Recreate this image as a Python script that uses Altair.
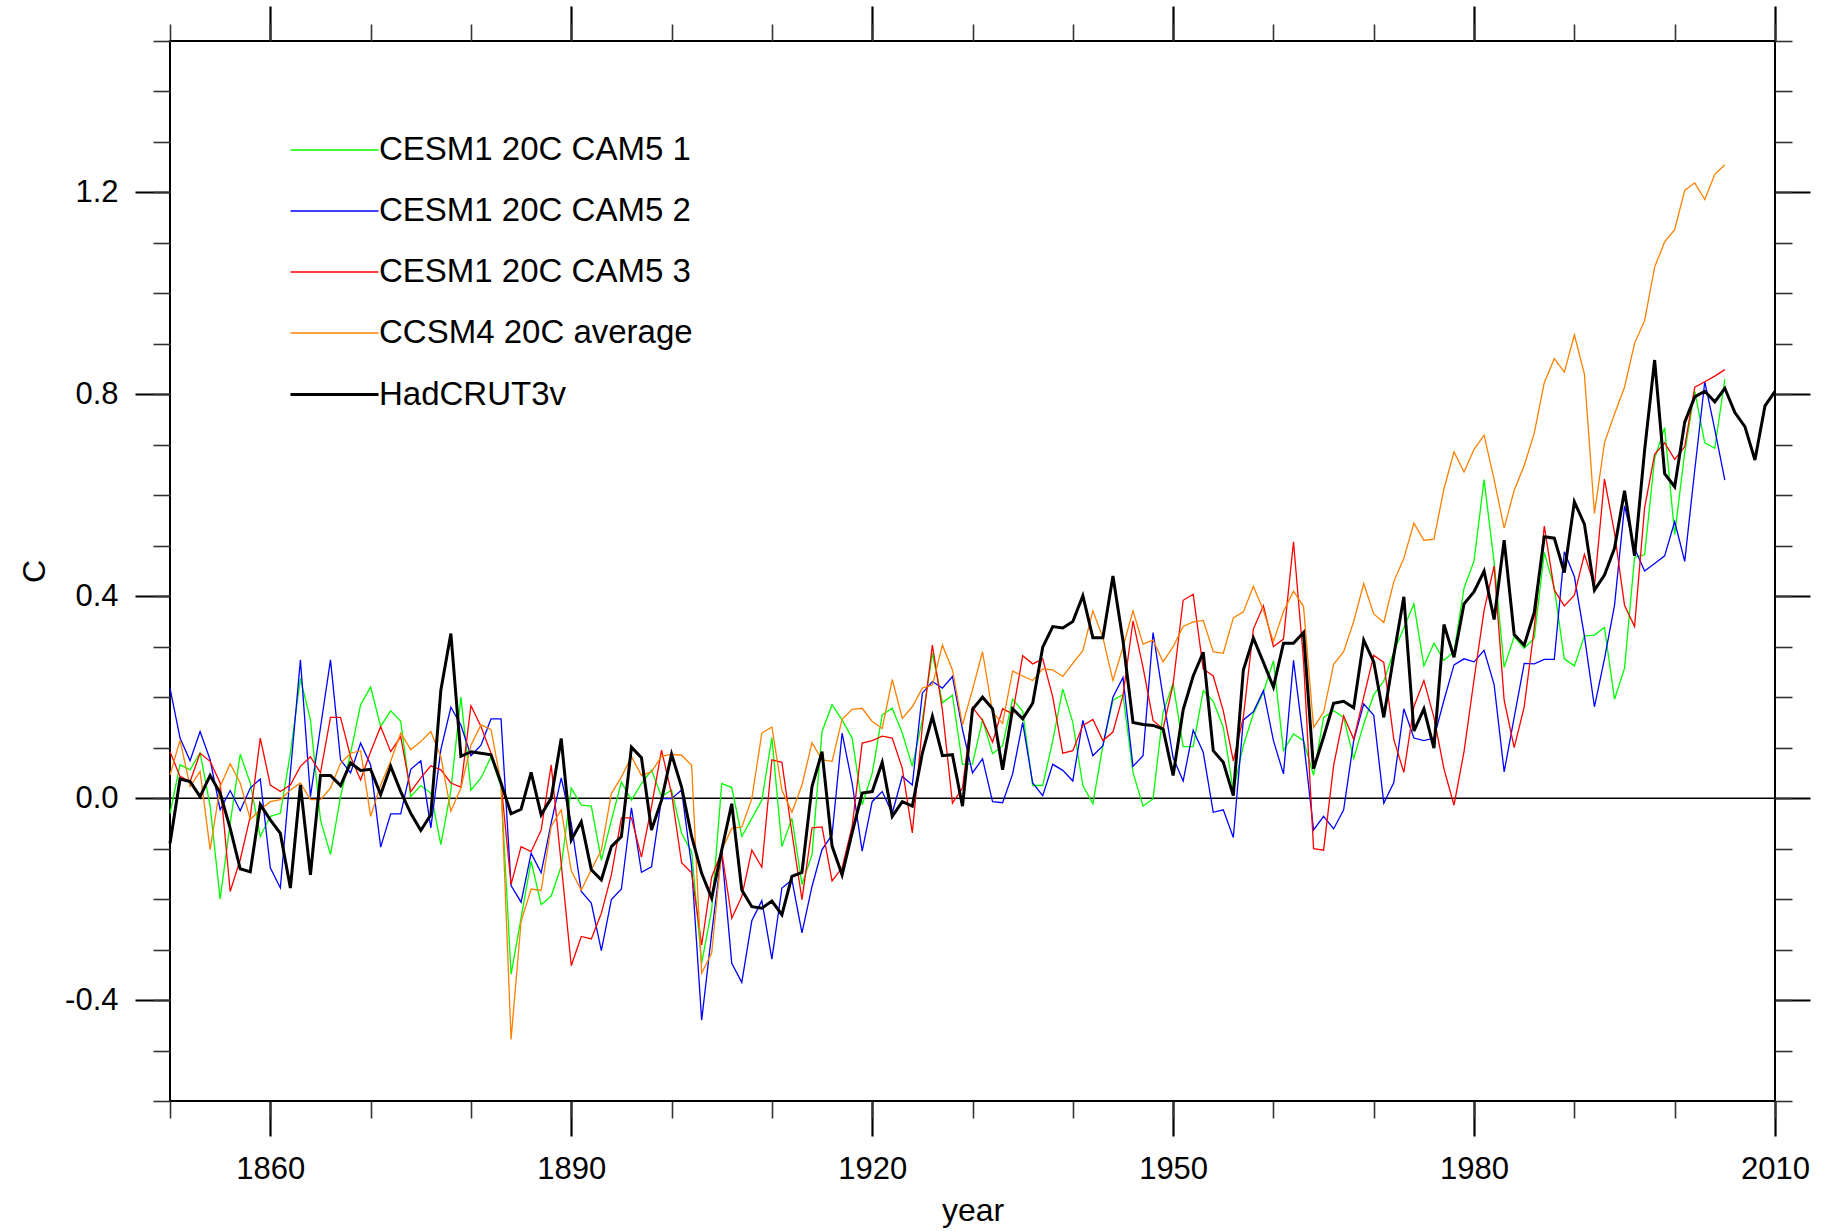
import altair as alt
import pandas as pd

series_names = ["CESM1 20C CAM5 1", "CESM1 20C CAM5 2", "CESM1 20C CAM5 3",
                "CCSM4 20C average", "HadCRUT3v"]
series_colors = ["#00ff00", "#0000ff", "#ff0000", "#ff8000", "#000000"]
series_widths = [1.3, 1.3, 1.3, 1.3, 3.0]

years_model = list(range(1850, 2006))
years_obs = list(range(1850, 2011))

cam5_1 = [
    -0.03, 0.066, 0.056, 0.09, -0.016, -0.2, -0.05, 0.087, 0.03, -0.076,
    -0.036, -0.03, 0.089, 0.237, 0.155, -0.043, -0.112, 0.003, 0.089, 0.185,
    0.22, 0.142, 0.173, 0.152, 0.003, 0.025, 0.01, -0.092, 0.016, 0.2,
    0.016, 0.04, 0.082, 0.023, -0.349, -0.237, -0.125, -0.211, -0.194, -0.135,
    0.02, -0.014, -0.016, -0.123, -0.044, 0.032, -0.004, 0.029, 0.055, 0.003,
    0.016, -0.07, -0.106, -0.327, -0.221, 0.029, 0.021, -0.076, -0.04, -0.004,
    0.12, -0.096, -0.04, -0.171, -0.112, 0.132, 0.185, 0.155, 0.119, -0.013,
    0.049, 0.165, 0.178, 0.129, 0.063, 0.155, 0.287, 0.189, 0.204, 0.067,
    0.068, 0.155, 0.088, 0.104, 0.196, 0.172, 0.025, 0.025, 0.114, 0.216,
    0.15, 0.025, -0.011, 0.104, 0.194, 0.205, 0.051, -0.016, -0.001, 0.17,
    0.227, 0.102, 0.102, 0.213, 0.192, 0.14, 0.015, 0.104, 0.167, 0.21,
    0.272, 0.094, 0.127, 0.114, 0.045, 0.16, 0.173, 0.16, 0.078, 0.147,
    0.205, 0.232, 0.29, 0.337, 0.385, 0.262, 0.307, 0.273, 0.29, 0.416,
    0.47, 0.631, 0.467, 0.259, 0.32, 0.297, 0.317, 0.487, 0.416, 0.276,
    0.262, 0.321, 0.323, 0.338, 0.196, 0.257, 0.477, 0.482, 0.673, 0.734,
    0.522, 0.685, 0.806, 0.704, 0.693, 0.83,
]

cam5_2 = [
    0.218, 0.119, 0.074, 0.132, 0.076, -0.023, 0.015, -0.025, 0.02, 0.038,
    -0.138, -0.178, 0.05, 0.274, 0.003, 0.14, 0.274, 0.076, 0.05, 0.109,
    0.066, -0.097, -0.031, -0.031, 0.057, 0.074, -0.059, 0.096, 0.18, 0.145,
    0.084, 0.105, 0.157, 0.157, -0.173, -0.206, -0.109, -0.148, -0.049, 0.04,
    -0.05, -0.185, -0.208, -0.302, -0.201, -0.18, -0.019, -0.147, -0.136, -0.001,
    -0.001, 0.016, -0.136, -0.44, -0.268, -0.106, -0.327, -0.365, -0.243, -0.203,
    -0.319, -0.178, -0.162, -0.267, -0.175, -0.102, -0.073, 0.129, 0.03, -0.105,
    -0.007, 0.013, -0.03, 0.043, 0.026, 0.208, 0.231, 0.218, 0.241, 0.136,
    0.05, 0.078, -0.007, -0.009, 0.048, 0.15, 0.03, 0.005, 0.067, 0.055,
    0.034, 0.154, 0.084, 0.104, 0.2, 0.239, 0.063, 0.084, 0.328, 0.2,
    0.08, 0.034, 0.135, 0.091, -0.028, -0.023, -0.078, 0.155, 0.171, 0.213,
    0.114, 0.048, 0.273, 0.114, -0.063, -0.036, -0.061, -0.023, 0.114, 0.187,
    0.164, -0.01, 0.031, 0.177, 0.119, 0.114, 0.119, 0.194, 0.264, 0.276,
    0.27, 0.293, 0.225, 0.052, 0.16, 0.267, 0.266, 0.275, 0.275, 0.488,
    0.439, 0.321, 0.181, 0.276, 0.382, 0.579, 0.495, 0.45, 0.465, 0.48,
    0.548, 0.469, 0.65, 0.825, 0.73, 0.63,
]

cam5_3 = [
    0.092, 0.043, 0.033, 0.089, 0.073, 0.03, -0.185, -0.122, -0.036, 0.119,
    0.026, 0.013, 0.026, 0.063, 0.082, 0.05, 0.16, 0.16, 0.082, 0.036,
    0.092, 0.142, 0.092, 0.122, 0.013, 0.04, 0.064, 0.056, 0.03, 0.022,
    0.183, 0.142, 0.089, 0.03, -0.171, -0.096, -0.106, -0.063, 0.066, -0.13,
    -0.332, -0.274, -0.279, -0.228, -0.152, -0.039, -0.039, -0.117, -0.017, 0.095,
    0.009, -0.128, -0.148, -0.291, -0.156, -0.106, -0.238, -0.195, -0.103, -0.137,
    0.076, 0.071, -0.069, -0.201, -0.059, -0.057, -0.164, -0.138, -0.056, 0.109,
    0.114, 0.123, 0.119, 0.059, -0.069, 0.142, 0.303, 0.175, -0.01, 0.02,
    0.18, 0.154, 0.111, 0.177, 0.167, 0.282, 0.266, 0.276, 0.2, 0.089,
    0.094, 0.144, 0.156, 0.114, 0.131, 0.203, 0.351, 0.259, 0.154, 0.137,
    0.226, 0.392, 0.404, 0.256, 0.242, 0.173, 0.074, 0.16, 0.335, 0.381,
    0.3, 0.315, 0.508, 0.272, -0.1, -0.103, 0.065, 0.163, 0.117, 0.2,
    0.283, 0.269, 0.116, 0.051, 0.181, 0.233, 0.16, 0.058, -0.014, 0.092,
    0.235, 0.372, 0.46, 0.194, 0.1, 0.181, 0.337, 0.539, 0.412, 0.381,
    0.402, 0.483, 0.42, 0.632, 0.526, 0.382, 0.34, 0.575, 0.681, 0.704,
    0.671, 0.696, 0.814, 0.825, 0.836, 0.849,
]

ccsm4_avg = [
    0.046, 0.115, 0.023, 0.053, -0.102, 0.023, 0.068, 0.03, -0.042, -0.023,
    -0.007, -0.003, 0.016, 0.03, -0.003, -0.003, 0.02, 0.069, 0.089, 0.094,
    -0.036, 0.026, 0.073, 0.129, 0.096, 0.112, 0.132, 0.082, -0.026, 0.02,
    0.105, 0.145, 0.136, 0.03, -0.478, -0.244, -0.18, -0.183, -0.056, -0.023,
    -0.144, -0.182, -0.142, -0.103, 0.009, 0.042, 0.082, 0.045, 0.052, 0.083,
    0.087, 0.085, 0.065, -0.347, -0.307, -0.103, -0.06, -0.057, -0.001, 0.129,
    0.141, 0.016, -0.028, 0.026, 0.11, 0.076, 0.073, 0.156, 0.176, 0.178,
    0.152, 0.138, 0.235, 0.158, 0.181, 0.218, 0.224, 0.303, 0.254, 0.145,
    0.215, 0.29, 0.17, 0.148, 0.252, 0.242, 0.233, 0.256, 0.254, 0.241,
    0.267, 0.292, 0.371, 0.318, 0.233, 0.299, 0.371, 0.305, 0.313, 0.27,
    0.3, 0.34, 0.349, 0.352, 0.29, 0.287, 0.357, 0.369, 0.42, 0.372,
    0.31, 0.37, 0.41, 0.38, 0.14, 0.17, 0.265, 0.29, 0.35, 0.425,
    0.365, 0.348, 0.429, 0.475, 0.545, 0.511, 0.513, 0.613, 0.686, 0.646,
    0.691, 0.719, 0.631, 0.535, 0.61, 0.659, 0.723, 0.823, 0.871, 0.844,
    0.918, 0.84, 0.564, 0.704, 0.761, 0.814, 0.901, 0.946, 1.052, 1.102,
    1.126, 1.204, 1.219, 1.186, 1.236, 1.255,
]

hadcrut3v = [
    -0.09, 0.038, 0.033, 0.003, 0.045, 0.01, -0.06, -0.14, -0.146, -0.013,
    -0.043, -0.07, -0.178, 0.026, -0.152, 0.045, 0.045, 0.025, 0.07, 0.055,
    0.057, 0.007, 0.063, 0.013, -0.03, -0.064, -0.033, 0.214, 0.326, 0.083,
    0.092, 0.089, 0.086, 0.03, -0.031, -0.022, 0.051, -0.033, 0.0, 0.118,
    -0.083, -0.047, -0.142, -0.162, -0.096, -0.076, 0.101, 0.08, -0.063, -0.004,
    0.087, 0.022, -0.076, -0.149, -0.198, -0.103, -0.011, -0.182, -0.215, -0.218,
    -0.204, -0.231, -0.155, -0.147, 0.023, 0.092, -0.095, -0.152, -0.069, 0.01,
    0.013, 0.071, -0.036, -0.007, -0.016, 0.089, 0.162, 0.084, 0.086, -0.016,
    0.176, 0.2, 0.177, 0.056, 0.177, 0.157, 0.188, 0.299, 0.34, 0.337,
    0.35, 0.401, 0.318, 0.318, 0.44, 0.312, 0.15, 0.146, 0.144, 0.137,
    0.045, 0.175, 0.242, 0.289, 0.094, 0.071, 0.005, 0.254, 0.317, 0.269,
    0.22, 0.307, 0.307, 0.328, 0.058, 0.121, 0.188, 0.192, 0.179, 0.313,
    0.27, 0.16, 0.283, 0.399, 0.133, 0.177, 0.099, 0.344, 0.279, 0.385,
    0.409, 0.45, 0.354, 0.511, 0.324, 0.303, 0.368, 0.518, 0.515, 0.447,
    0.587, 0.543, 0.412, 0.442, 0.495, 0.609, 0.48, 0.689, 0.868, 0.643,
    0.617, 0.745, 0.795, 0.806, 0.785, 0.812, 0.764, 0.736, 0.67, 0.777, 0.806,
]

x_major = [1860, 1890, 1920, 1950, 1980, 2010]
x_minor = list(range(1850, 2011, 10))
y_major = [-0.4, 0.0, 0.4, 0.8, 1.2]
y_minor = [round(-0.6 + 0.1 * i, 1) for i in range(22)]
x_domain = [1850, 2010]
y_domain = [-0.6, 1.5]

rows = []
for name, yrs, vals in zip(series_names,
                           [years_model] * 4 + [years_obs],
                           [cam5_1, cam5_2, cam5_3, ccsm4_avg, hadcrut3v]):
    for yr, v in zip(yrs, vals):
        rows.append({"series": name, "year": yr, "value": v})
df = pd.DataFrame(rows)

FONT = "Liberation Sans"
W, H = 1605, 1060


def xenc(axis):
    return alt.X("year:Q", scale=alt.Scale(domain=x_domain, nice=False, zero=False), axis=axis)


def yenc(axis):
    return alt.Y("value:Q", scale=alt.Scale(domain=y_domain, nice=False, zero=False), axis=axis)


def tick_axis(orient, values, size, width, color, labels=False, **kw):
    return alt.Axis(orient=orient, values=values, tickSize=size, tickWidth=width,
                    tickColor=color, domain=False, grid=False, labels=labels,
                    **kw)


legend = alt.Legend(orient="none", legendX=141, legendY=86, title=None,
                    symbolType="M-2,0H2", symbolSize=1936,
                    labelFontSize=33, labelFont=FONT, labelColor="black",
                    labelOffset=21, rowPadding=21, padding=0, labelLimit=0)

color = alt.Color("series:N", scale=alt.Scale(domain=series_names, range=series_colors),
                  legend=legend)
swidth = alt.StrokeWidth("series:N",
                         scale=alt.Scale(type="ordinal", domain=series_names, range=series_widths),
                         legend=legend)

hidden = alt.Chart(df).mark_point(opacity=0, size=1)

axis_major_bl = hidden.encode(
    x=xenc(tick_axis("bottom", x_major, 35, 2.2, "black", labels=True,
                     labelFontSize=31, labelFont=FONT, labelColor="black",
                     labelPadding=18, labelFlush=False, labelOverlap=False,
                     format="d", title="year", titleFont=FONT, titleFontSize=32,
                     titleFontWeight="normal", titleColor="black",
                     titleY=119, titleBaseline="alphabetic")),
    y=yenc(tick_axis("left", y_major, 35, 2.2, "black", labels=True,
                     labelFontSize=31, labelFont=FONT, labelColor="black",
                     labelPadding=17, labelOverlap=False, labelFlush=False,
                     labelExpr="datum.value < 0 ? '-' + format(-datum.value, '.1f') : format(datum.value, '.1f')",
                     title="C", titleFont=FONT, titleFontSize=32,
                     titleFontWeight="normal", titleColor="black",
                     titleAngle=270, titleX=-126, titleY=530,
                     titleAlign="center", titleBaseline="alphabetic")),
)
axis_minor_bl = hidden.encode(
    x=xenc(tick_axis("bottom", x_minor, 17, 1.6, "#333333", title=None)),
    y=yenc(tick_axis("left", y_minor, 17, 1.6, "#333333", title=None)),
)
axis_major_tr = hidden.encode(
    x=xenc(tick_axis("top", x_major, 35, 2.2, "black", title=None)),
    y=yenc(tick_axis("right", y_major, 35, 2.2, "black", title=None)),
)
axis_minor_tr = hidden.encode(
    x=xenc(tick_axis("top", x_minor, 17, 1.6, "#333333", title=None)),
    y=yenc(tick_axis("right", y_minor, 17, 1.6, "#333333", title=None)),
)

zero_line = alt.Chart(pd.DataFrame({"value": [0.0]})).mark_rule(
    color="black", strokeWidth=1.5).encode(y=yenc(None))

line_layers = []
for name in series_names:
    line_layers.append(
        alt.Chart(df).transform_filter(alt.datum.series == name).mark_line().encode(
            x=xenc(None), y=yenc(None), color=color, strokeWidth=swidth,
            order="year:Q")
    )

chart = alt.layer(
    zero_line, axis_major_bl, axis_minor_bl, axis_major_tr, axis_minor_tr, *line_layers
).resolve_scale(
    x="independent", y="independent"
).properties(
    width=W, height=H,
    autosize=alt.AutoSizeParams(type="none"),
    padding={"left": 170, "top": 41, "right": 48, "bottom": 130},
    background="white",
).configure(
    font=FONT
).configure_view(
    stroke="black", strokeWidth=2
)

chart.save("out.html", embed_options={"renderer": "svg", "actions": False})
